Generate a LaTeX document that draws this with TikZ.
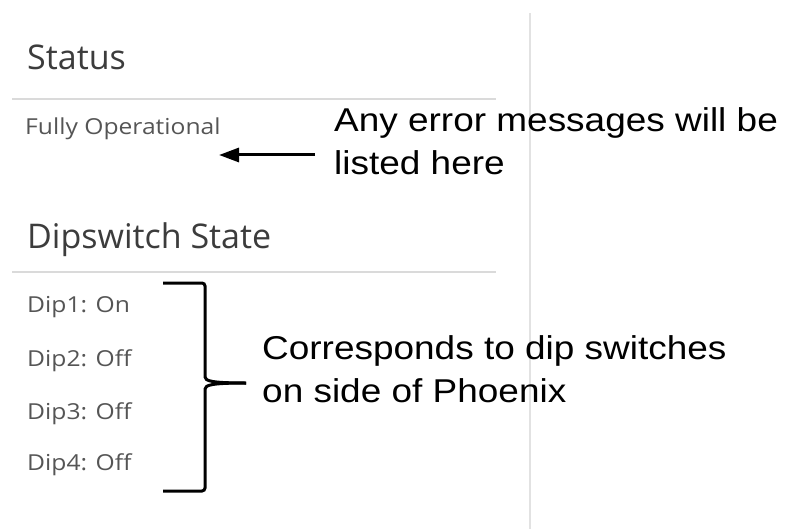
\documentclass[tikz,border=0pt]{standalone}
\usepackage{fontspec}
\setmainfont{Open Sans}
\newfontfamily\itemfont[FakeStretch=1.12]{Open Sans}
\newfontfamily\notefont[FakeStretch=1.12]{Liberation Sans}
\usepackage{xcolor}
\usepackage{tikz}
\usetikzlibrary{arrows.meta,calc}

\definecolor{headgray}{HTML}{3C3C3C}
\definecolor{itemgray}{HTML}{555555}
\definecolor{rulegray}{HTML}{DADADA}
\definecolor{sepgray}{HTML}{E2E2E2}

\begin{document}
\begin{tikzpicture}[x=1pt, y=-1pt,
    head/.style={anchor=base west, inner sep=0pt, text=headgray, font=\fontsize{34}{40}\selectfont},
    item/.style={anchor=west, inner sep=0pt, text=itemgray, font=\itemfont\fontsize{22}{26}\selectfont},
    note/.style={anchor=base west, inner sep=0pt, align=left, font=\notefont\fontsize{33}{43}\selectfont},
    rule/.style={rulegray, line width=2pt},
    brace/.style={line width=3pt, rounded corners=3pt}]
    \useasboundingbox (0,0) rectangle (786,529);
    % panel separator
    \coordinate (SepT) at (530, 13);
    \coordinate (SepB) at (530, 529);
    \draw[sepgray, line width=1.5pt] (SepT) -- (SepB);
    % status block
    \node[head] (status) at (27, 70) {Status};
    \coordinate (RuleAL) at (12, 99);
    \coordinate (RuleAR) at (496, 99);
    \draw[rule] (RuleAL) -- (RuleAR);
    \node[item] (fullyop) at (25, 129) {Fully Operational};
    \node[note] (errnote) at (334, 175) {Any error messages will be\\listed here};
    \coordinate (ArrTail) at (315, 155);
    \coordinate (ArrTip) at (219, 155);
    \draw[line width=3pt, -{Triangle[length=20pt, width=14pt]}] (ArrTail) -- (ArrTip);
    % dipswitch block
    \node[head] (dipstate) at (27, 248) {Dipswitch State};
    \coordinate (RuleBL) at (12, 272);
    \coordinate (RuleBR) at (496, 272);
    \draw[rule] (RuleBL) -- (RuleBR);
    \node[item] (dip1) at (27, 307) {Dip1: On};
    \node[item] (dip2) at (27, 361) {Dip2: Off};
    \node[item] (dip3) at (27, 414) {Dip3: Off};
    \node[item] (dip4) at (27, 465) {Dip4: Off};
    % bracket
    \coordinate (BrTop) at (163, 283);
    \coordinate (BrBot) at (163, 491);
    \coordinate (BrTip) at (246, 383);
    \draw[brace] (BrTop) -- (205, 283) -- (205, 374)
        .. controls (205, 381) and (212, 383) .. (BrTip);
    \draw[brace] (BrBot) -- (205, 491) -- (205, 392)
        .. controls (205, 385) and (212, 383) .. (BrTip);
    \node[note] (dipnote) at (262, 402) {Corresponds to dip switches\\on side of Phoenix};
\end{tikzpicture}
\end{document}
